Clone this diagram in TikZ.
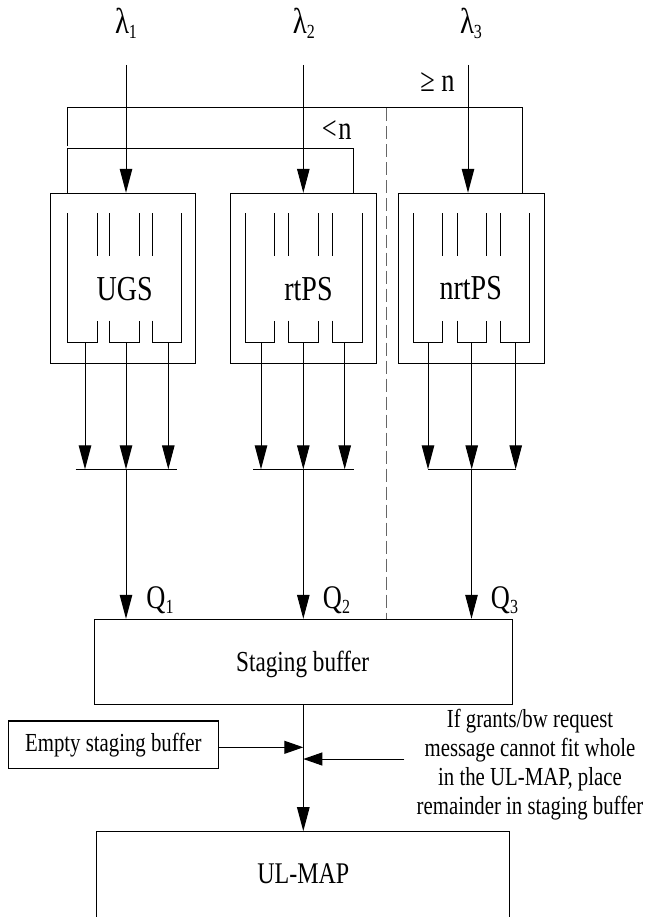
\documentclass[tikz,border=0pt]{standalone}
\usepackage{fontspec}
\setmainfont[FakeStretch=0.8]{Liberation Serif}
\usetikzlibrary{arrows.meta}
\newcommand\subsc[1]{\raisebox{-5pt}{\fontsize{20}{20}\selectfont #1}}
\newcommand\fsz[1]{\fontsize{#1}{#1}\selectfont}
\tikzset{
  arr/.style={-{Triangle[length=24pt,width=12.5pt]}},
  sarr/.style={-{Triangle[length=19pt,width=13pt]}},
  boxnode/.style={draw, rectangle, inner sep=0pt},
  lbl/.style={inner sep=0pt, anchor=base},
  dashline/.style={draw=black!60, dash pattern=on 13pt off 5pt},
}
\begin{document}
\begin{tikzpicture}[x=1pt,y=-1pt,line width=1pt]
\clip (0,0) rectangle (647,917);

% input labels
\node[lbl] (lam1) at (126,33.3) {\fsz{36}λ\subsc{1}};
\node[lbl] (lam2) at (303.8,33.3) {\fsz{36}λ\subsc{2}};
\node[lbl] (lam3) at (471,33.3) {\fsz{36}λ\subsc{3}};
\node[lbl] (ge) at (437.5,91.7) {\fsz{33}≥ n};
\node[lbl] (lt) at (336.7,139.3) {\fsz{33}<\kern1.5pt n};

% scheduler boxes
\node[boxnode, minimum width=145.4pt, minimum height=169.7pt] (ugs) at (123,278.15) {};
\node[boxnode, minimum width=145.3pt, minimum height=169.7pt] (rtps) at (303.35,278.15) {};
\node[boxnode, minimum width=145.6pt, minimum height=169.7pt] (nrtps) at (471.5,278.15) {};
\node[lbl] (ugst) at (124.7,300) {\fsz{35}UGS};
\node[lbl] (rtpst) at (308.5,300) {\fsz{35}rtPS};
\node[lbl] (nrtpst) at (470.7,299.5) {\fsz{35}nrtPS};

% arrival arrows
\coordinate (s1) at (126,65);
\coordinate (s2) at (303.3,65);
\coordinate (s3) at (468,65);
\draw[arr] (s1) -- (s1 |- ugs.north);
\draw[arr] (s2) -- (s2 |- rtps.north);
\draw[arr] (s3) -- (s3 |- nrtps.north);

% feedback loops
\coordinate (la) at (67.3,148.3);
\coordinate (lb) at (353,148.3);
\draw (la |- ugs.north) -- (la) -- (lb) -- (lb |- rtps.north);
\coordinate (oa) at (67.3,107.3);
\coordinate (ob) at (522.3,107.3);
\draw (67.3,146.5) -- (oa) -- (ob) -- (ob |- nrtps.north);

% dashed separator
\coordinate (d1) at (386,108.5);
\draw[dashline] (d1) -- (386,619.3);

% queues inside boxes
\foreach \L/\a/\b/\c/\d/\R in {67.3/97.7/109.3/139/152/181.7, 245/274/288.3/318.3/332/362.3, 413.7/442.3/457/486/500.7/529.3}{
  \draw (\L,213.3) |- (\a,342.3) -- (\a,320.7);
  \draw (\b,320.7) |- (\c,342.3) -- (\c,320.7);
  \draw (\d,320.7) |- (\R,342.3) -- (\R,213.3);
  \foreach \t in {\a,\b,\c,\d} \draw (\t,213.3) -- (\t,255.7);
}

% queue outputs
\foreach \o in {85,126,168.3,261,303.3,344.7,428,471.7,515.7}
  \draw[arr] (\o,342.3) -- (\o,469.3);
\draw (75.6,469.3) -- (176.7,469.3);
\draw (253,469.3) -- (353.9,469.3);
\draw (428,469.3) -- (515.7,469.3);

% staging buffer
\node[boxnode, minimum width=417.7pt, minimum height=84.7pt] (sb) at (303.15,661.65) {};
\node[lbl] (sbt) at (302.7,671.7) {\fsz{29}Staging buffer};

\coordinate (m1) at (126,469.3);
\coordinate (m2) at (303.3,469.3);
\coordinate (m3) at (471.5,469.3);
\draw[arr] (m1) -- (m1 |- sb.north);
\draw[arr] (m2) -- (m2 |- sb.north);
\draw[arr] (m3) -- (m3 |- sb.north);
\node[lbl] (q1) at (160,608.3) {\fsz{33}Q\subsc{1}};
\node[lbl] (q2) at (336.5,608.3) {\fsz{33}Q\subsc{2}};
\node[lbl] (q3) at (504.5,608.3) {\fsz{33}Q\subsc{3}};

% empty staging buffer
\node[boxnode, line width=1.3pt, minimum width=210pt, minimum height=47.3pt, font=\fsz{26}] (esb) at (113.3,744.65) {Empty staging buffer};

% note
\node[inner sep=0pt, align=center, font=\fontsize{26}{29}\selectfont] (note) at (530,764.2)
  {If grants/bw request\\message cannot fit whole\\in the UL-MAP, place\\remainder in staging buffer};

% UL-MAP
\node[boxnode, minimum width=413pt, minimum height=120pt] (ul) at (303.2,891.7) {};
\node[lbl] (ult) at (303.3,883.3) {\fsz{30}UL-MAP};

\coordinate (j1) at (303.3,747.3);
\coordinate (j2) at (303.3,759);
\coordinate (r0) at (404.3,759);
\draw[arr] (sb.south -| j1) -- (ul.north -| j1);
\draw[sarr] (esb.east |- j1) -- (j1);
\draw[sarr] (r0) -- (j2);
\end{tikzpicture}
\end{document}
